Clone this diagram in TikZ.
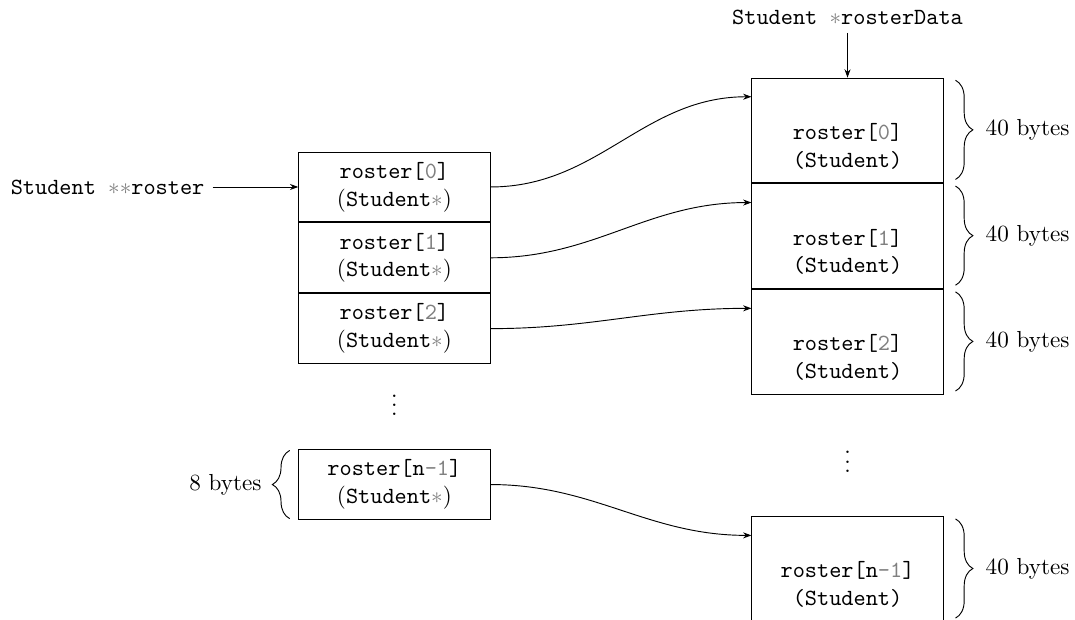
\documentclass[tikz,border=0pt]{standalone}
\usepackage{xcolor}
\usetikzlibrary{arrows.meta,positioning,decorations.pathreplacing}

\newcommand{\gr}[1]{\textcolor{gray}{#1}}

\begin{document}
\begin{tikzpicture}[
	>={Stealth[length=3.6pt,width=2.6pt]},
	ptr/.style={
		draw,
		align=center,
		minimum width=2.9cm,
		minimum height=1.06cm
	},
	elem/.style={
		draw,
		align=center,
		minimum width=2.9cm,
		minimum height=1.59cm
	},
	sizebrace/.style={
		decorate,
		decoration={brace,amplitude=7.5pt}
	}
	]
	\useasboundingbox (0,0) rectangle (16.3,-9.386);
	
	% pointer array
	\node[ptr] (L0) at (5.98,-2.835)
	{\texttt{roster[\gr{0}]}\\$($\texttt{Student}\gr{$\ast$}$)$};
	
	\node[ptr,below=0pt of L0] (L1)
	{\texttt{roster[\gr{1}]}\\$($\texttt{Student}\gr{$\ast$}$)$};
	
	\node[ptr,below=0pt of L1] (L2)
	{\texttt{roster[\gr{2}]}\\$($\texttt{Student}\gr{$\ast$}$)$};
	
	\node (ldots) at (5.98,-6.04) {$\vdots$};
	
	\node[ptr] (Ln) at (5.98,-7.347)
	{\texttt{roster[n\gr{-1}]}\\$($\texttt{Student}\gr{$\ast$}$)$};
	
	\node[left=1.3cm of L0] (sroster)
	{\texttt{Student \gr{$\ast\ast$}roster}};
	
	% student data
	\node[elem] (R0) at (12.851,-1.979)
	{\strut\\\texttt{roster[\gr{0}]}\\\texttt{(Student)}};
	
	\node[elem,below=0pt of R0] (R1)
	{\strut\\\texttt{roster[\gr{1}]}\\\texttt{(Student)}};
	
	\node[elem,below=0pt of R1] (R2)
	{\strut\\\texttt{roster[\gr{2}]}\\\texttt{(Student)}};
	
	\node (rdots) at (12.851,-6.9) {$\vdots$};
	
	\node[elem] (Rn) at (12.851,-8.63)
	{\strut\\\texttt{roster[n\gr{-1}]}\\\texttt{(Student)}};
	
	\node[above=0.68cm of R0] (sdata)
	{\texttt{Student \gr{$\ast$}rosterData}};
	
	% sizes
	\draw[sizebrace] ([xshift=-0.13cm,yshift=0.02cm]Ln.south west) -- ([xshift=-0.13cm,yshift=-0.02cm]Ln.north west)
	node[midway,left=8.6pt] (ptrsize) {8 bytes};
	
	\draw[sizebrace] ([xshift=0.18cm,yshift=-0.04cm]R0.north east) -- ([xshift=0.18cm,yshift=0.06cm]R0.south east)
	node[midway,right=9.5pt] (size0) {40 bytes};
	\draw[sizebrace] ([xshift=0.18cm,yshift=-0.04cm]R1.north east) -- ([xshift=0.18cm,yshift=0.06cm]R1.south east)
	node[midway,right=9.5pt] (size1) {40 bytes};
	\draw[sizebrace] ([xshift=0.18cm,yshift=-0.04cm]R2.north east) -- ([xshift=0.18cm,yshift=0.06cm]R2.south east)
	node[midway,right=9.5pt] (size2) {40 bytes};
	\draw[sizebrace] ([xshift=0.18cm,yshift=-0.04cm]Rn.north east) -- ([xshift=0.18cm,yshift=0.06cm]Rn.south east)
	node[midway,right=9.5pt] (sizen) {40 bytes};
	
	\draw[->] (sroster) -- (L0);
	\draw[->] (sdata) -- (R0);
	
	\draw[->] (L0.east) to[out=0,in=180] ([yshift=-0.29cm]R0.north west);
	\draw[->] (L1.east) to[out=0,in=180] ([yshift=-0.29cm]R1.north west);
	\draw[->] (L2.east) to[out=0,in=180] ([yshift=-0.29cm]R2.north west);
	\draw[->] (Ln.east) to[out=0,in=180] ([yshift=-0.29cm]Rn.north west);
	
\end{tikzpicture}
\end{document}
